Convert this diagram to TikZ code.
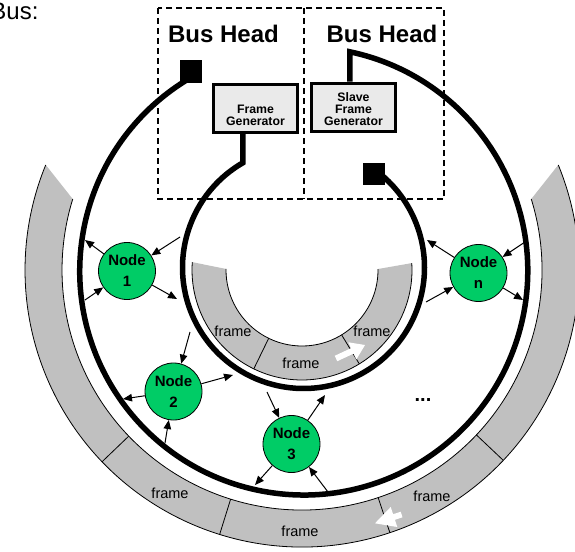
\documentclass[tikz,border=0pt]{standalone}
\usepackage{fontspec}
\setmainfont{Liberation Sans}
\usetikzlibrary{arrows.meta}
\definecolor{nodegreen}{RGB}{0,204,102}
\definecolor{bandgray}{RGB}{192,192,192}
\definecolor{boxgray}{RGB}{234,234,234}
\begin{document}
\begin{tikzpicture}[x=1pt,y=-1pt,
  bus/.style={line width=5.5pt},
  link/.style={line width=1pt,-{Triangle[length=9pt,width=7.5pt]}},
  stn/.style={circle,draw,line width=0.8pt,fill=nodegreen,minimum size=57pt,
    inner sep=0pt,align=center,font=\fontsize{15}{21}\selectfont\bfseries},
  genbox/.style={draw,line width=3pt,fill=boxgray,minimum width=84pt,
    minimum height=48pt,inner sep=0pt},
  gentext/.style={align=center,inner sep=0pt,font=\fontsize{12.3}{12}\selectfont\bfseries},
  headbox/.style={line width=1.2pt,dash pattern=on 6pt off 4pt},
  frm/.style={inner sep=0pt,font=\fontsize{14.5}{16}\selectfont},
  rim/.style={line width=0.8pt},
  sep/.style={line width=0.8pt},
]
\useasboundingbox (0,0) rectangle (575,551);

% ---- outer ring of frames (centre 302,270)
\fill[bandgray] ([shift={(-22.3:277)}]302,270) arc[start angle=-22.3,end angle=202.3,radius=277]
  -- ([shift={(197.2:240)}]302,270) arc[start angle=197.2,end angle=-17.2,radius=240] -- cycle;
\draw[rim] ([shift={(-22.3:277)}]302,270) arc[start angle=-22.3,end angle=202.3,radius=277];
\draw[rim] ([shift={(-17.2:240)}]302,270) arc[start angle=-17.2,end angle=197.2,radius=240];
\foreach \a in {43.4,71.5,107.3,136.2}
  \draw[sep] ([shift={(\a:240)}]302,270) -- ([shift={(\a:277)}]302,270);

% ---- inner ring of frames
\fill[bandgray] ([shift={(-3.6:110)}]302,270) arc[start angle=-3.6,end angle=184.1,radius=110]
  -- ([shift={(180.8:76)}]302,270) arc[start angle=180.8,end angle=-0.75,radius=76] -- cycle;
\draw[rim] ([shift={(-3.6:110)}]302,270) arc[start angle=-3.6,end angle=184.1,radius=110];
\draw[rim] ([shift={(-0.75:76)}]302,270) arc[start angle=-0.75,end angle=180.8,radius=76];
\foreach \a in {58.6,116}
  \draw[sep] ([shift={(\a:76)}]302,270) -- ([shift={(\a:110)}]302,270);

% frame labels
\node[frm] (fa) at (233,331) {frame};
\node[frm] (fb) at (301,363) {frame};
\node[frm] (fc) at (372,331) {frame};
\node[frm] (fd) at (170,493) {frame};
\node[frm] (fe) at (300,531) {frame};
\node[frm] (ff) at (432,496) {frame};

% direction arrows inside the rings
\fill[white] (365,345) -- (356.3,359.5) -- (353.6,353.6) -- (337.3,361.2)
  -- (334.7,355.8) -- (351.0,348.2) -- (348.3,342.3) -- cycle;
\fill[white] (375,523.3) -- (397.3,527.0) -- (394.9,519.8) -- (402.5,517.3)
  -- (400.7,511.7) -- (393.1,514.2) -- (390.7,507.0) -- cycle;

% ---- bus head areas
\draw[headbox] (158,8) rectangle (444,199);
\draw[headbox] (304,8) -- (304,199);
\node[anchor=base,font=\fontsize{24}{24}\selectfont\bfseries] (hl) at (223.5,42) {Bus Head};
\node[anchor=base,font=\fontsize{24}{24}\selectfont\bfseries] (hr) at (382,42) {Bus Head};
\node[anchor=base east,font=\fontsize{24}{24}\selectfont] (title) at (42,20) {Bus:};

% generators
\node[genbox] (fg) at (255.5,108) {};
\node[gentext] (fgt) at (255.5,115.5) {Frame\\Generator};
\node[genbox] (sfg) at (353.5,107) {};
\node[gentext] (sfgt) at (353.5,109) {Slave\\Frame\\Generator};

% ---- the two bus rings
\coordinate (ia) at ([shift={(-120.1:121)}]303.5,267.5);
\draw[bus] (fg.south -| ia) -- (ia) arc[start angle=-120.1,end angle=-412,radius=121];
\coordinate (oa) at ([shift={(-78.1:224)}]303.75,271);
\draw[bus] (sfg.north -| oa) -- (oa) arc[start angle=-78.1,end angle=241.25,radius=224];
\node[fill=black,minimum size=22pt,inner sep=0pt] (endo) at (191,71.5) {};
\node[fill=black,minimum size=22pt,inner sep=0pt] (endi) at (374,174) {};

% ---- stations
\node[stn] (n1) at (127,271) {Node\\1};
\node[stn] (n2) at (173.5,391.5) {Node\\2};
\node[stn] (n3) at (291.5,444) {Node\\3};
\node[stn] (nn) at (478.5,273) {Node\\n};
\node[anchor=base,font=\fontsize{20}{20}\selectfont\bfseries] (dots) at (423,401) {...};

% taps on the rings
\coordinate (o1a) at (85,240);  \coordinate (o1b) at (85,300);
\coordinate (i1a) at (180,237); \coordinate (i1b) at (177,299);
\coordinate (i2a) at (190,332); \coordinate (i2b) at (233,375);
\coordinate (o2a) at (123,399); \coordinate (o2b) at (165,443);
\coordinate (i3a) at (267,392); \coordinate (i3b) at (325,395);
\coordinate (o3a) at (255,485); \coordinate (o3b) at (328,492);
\coordinate (ina) at (427,240); \coordinate (inb) at (426,302);
\coordinate (ona) at (525,242); \coordinate (onb) at (523,300);

\draw[link] (n1) -- (o1a);
\draw[link] (o1b) -- (n1);
\draw[link] (i1a) -- (n1);
\draw[link] (n1) -- (i1b);

\draw[link] (i2a) -- (n2);
\draw[link] (n2) -- (i2b);
\draw[link] (n2) -- (o2a);
\draw[link] (o2b) -- (n2);

\draw[link] (i3a) -- (n3);
\draw[link] (n3) -- (i3b);
\draw[link] (n3) -- (o3a);
\draw[link] (o3b) -- (n3);

\draw[link] (nn) -- (ina);
\draw[link] (inb) -- (nn);
\draw[link] (ona) -- (nn);
\draw[link] (nn) -- (onb);
\end{tikzpicture}
\end{document}
